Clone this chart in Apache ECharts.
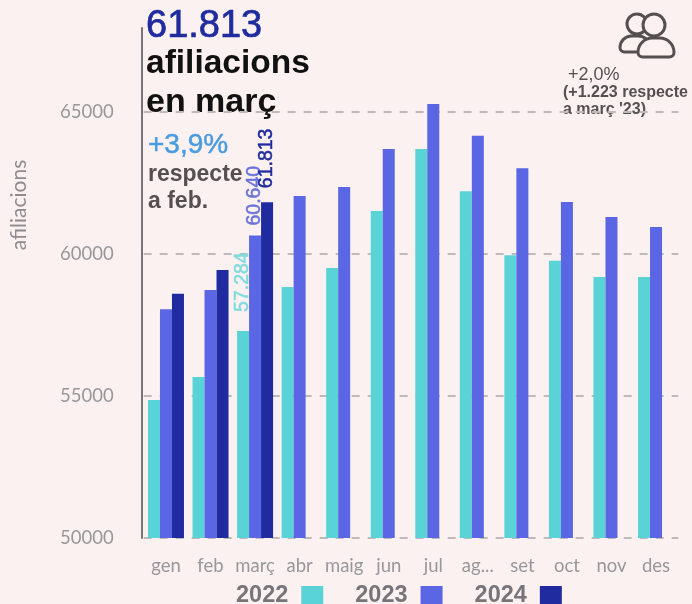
<!DOCTYPE html>
<html>
<head>
<meta charset="utf-8">
<style>
  html, body { margin: 0; padding: 0; background: #fbf1f0; }
  #main { width: 692px; height: 604px; }
</style>
<script src="https://cdn.jsdelivr.net/npm/echarts@6/dist/echarts.min.js"></script>
</head>
<body>
<div id="main"></div>
<script>
const months = ["gen", "feb", "març", "abr", "maig", "jun", "jul", "ag...", "set", "oct", "nov", "des"];
const y2022 = [54850, 55660, 57284, 58830, 59500, 61500, 63680, 62200, 59950, 59750, 59180, 59180];
const y2023 = [58050, 58720, 60640, 62030, 62350, 63680, 65270, 64150, 63010, 61820, 61290, 60940];
const y2024 = [58590, 59430, 61813, null, null, null, null, null, null, null, null, null];
const labelMonth = 2; // només març porta etiqueta

const sans = "Liberation Sans";
const lato = "Lato";
const bg = "#fbf1f0";
const ink = "#55504f";

var myChart = echarts.init(document.getElementById("main"));

function barSeries(name, values, color, labelColor, labelShift, labelGap) {
  return {
    name: name,
    type: "bar",
    barWidth: 12,
    barGap: "0%",
    itemStyle: { color: color },
    data: values.map((v, i) => {
      if (i !== labelMonth) return v;
      return {
        value: v,
        label: {
          show: true,
          position: "top",
          rotate: 90,
          distance: labelGap,
          offset: [labelShift, 0],
          align: "left",
          verticalAlign: "middle",
          color: labelColor,
          fontFamily: sans,
          fontSize: 19.5,
          formatter: (p) => String(p.value).replace(/(\d{2})(\d{3})/, "$1.$2"),
          textBorderColor: labelColor,
          textBorderWidth: 0.5,
        },
      };
    }),
  };
}

function text(x, y, str, size, color, weight, extra) {
  return {
    type: "text",
    x: x,
    y: y,
    style: Object.assign({
      text: str,
      fill: color,
      fontFamily: sans,
      fontSize: size,
      fontWeight: weight || "normal",
    }, extra),
  };
}

function person(cx, cy, r, bodyX, bodyY, bodyW, bodyH, fill) {
  return [
    { type: "circle", shape: { cx: cx, cy: cy, r: r }, style: { fill: fill, stroke: ink, lineWidth: 3 } },
    {
      type: "rect",
      shape: { x: bodyX, y: bodyY, width: bodyW, height: bodyH, r: [bodyH * 0.8, bodyH * 0.8, 5, 5] },
      style: { fill: fill, stroke: ink, lineWidth: 3 },
    },
  ];
}

var option = {
  backgroundColor: bg,
  animation: false,
  legend: {
    left: 231,
    top: 579,
    align: "right",
    icon: "rect",
    itemWidth: 22,
    itemHeight: 20,
    itemGap: 32,
    selectedMode: false,
    textStyle: { color: "#77757a", fontFamily: sans, fontSize: 23.5, fontWeight: "bold", padding: [2, 8, 0, 0] },
    data: ["2022", "2023", "2024"],
  },
  grid: { left: 143.7, right: 13.7, top: 28, bottom: 66 },
  xAxis: {
    type: "category",
    data: months,
    axisLine: { show: false },
    axisTick: { show: false },
    axisLabel: { color: "#98979b", fontFamily: lato, fontSize: 18.5, margin: 19, interval: 0 },
  },
  yAxis: {
    type: "value",
    min: 50000,
    max: 67940,
    interval: 5000,
    offset: 2,
    axisLine: { show: true, lineStyle: { color: "#77757a", width: 2 } },
    axisTick: { show: false },
    axisLabel: {
      color: "#98979b",
      fontFamily: lato,
      fontSize: 18.5,
      margin: 28,
      showMaxLabel: false,
      padding: [4, 0, 0, 0],
      formatter: (v) => String(v),
    },
    splitLine: { showMaxLine: false, lineStyle: { color: "#bfb9bb", type: [8, 8], width: 2 } },
  },
  series: [
    barSeries("2022", y2022, "#5ad3d6", "#7fdbdd", 1, 18),
    barSeries("2023", y2023, "#5a66e3", "#6a74d8", -1, 11),
    barSeries("2024", y2024, "#1f2b9e", "#1f2b9e", 3, 11),
  ],
  graphic: [
    text(146, 8, "61.813", 38, "#1f2b9e", "normal", { stroke: "#1f2b9e", lineWidth: 0.7 }),
    text(146, 47, "afiliacions", 33.5, "#111111", "bold"),
    text(146, 86, "en març", 34, "#111111", "bold"),
    text(148, 131, "+3,9%", 28, "#4a9be0", "normal", { stroke: "#4a9be0", lineWidth: 0.5 }),
    text(148, 163, "respecte", 23, ink, "bold"),
    text(148, 190, "a feb.", 23, ink, "bold"),
    text(568, 66, "+2,0%", 18, ink),
    text(563, 85, "(+1.223 respecte", 16, ink, "bold"),
    text(563, 102, "a març '23)", 16, ink, "bold", { backgroundColor: bg, padding: [0, 4, 0, 0] }),
    {
      type: "text",
      x: 19,
      y: 205,
      rotation: Math.PI / 2,
      style: { text: "afiliacions", fill: "#8d8c91", fontFamily: lato, fontSize: 21, align: "center", verticalAlign: "middle" },
    },
    // icona de persones
    {
      type: "group",
      x: 620,
      y: 12,
      children: person(17, 12, 10, 0, 24, 30, 16, "none").concat(person(34, 13, 11, 18, 26, 36, 19, bg)),
    },
  ],
};

myChart.setOption(option);
</script>
</body>
</html>
